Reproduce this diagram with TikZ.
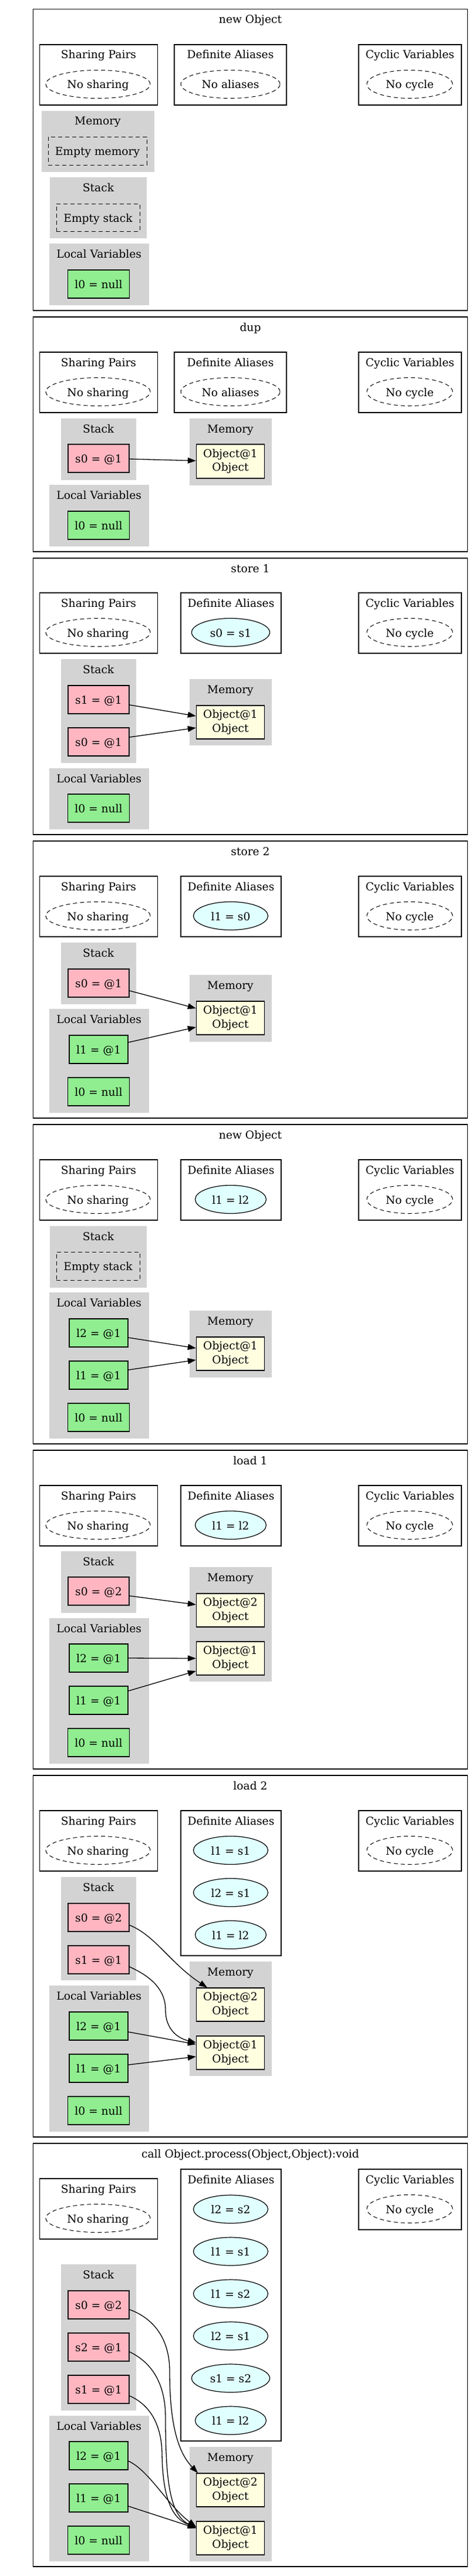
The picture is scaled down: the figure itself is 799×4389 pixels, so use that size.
\documentclass[tikz,border=0pt]{standalone}
\usepackage{fontspec}
\setmainfont{DejaVu Serif}
\usetikzlibrary{shapes.geometric,arrows.meta}
\definecolor{lpink}{HTML}{FFB6C1}
\definecolor{lgreen}{HTML}{90EE90}
\definecolor{lyellow}{HTML}{FFFFE0}
\definecolor{lcyan}{HTML}{E0FFFF}
\definecolor{lgray}{HTML}{D3D3D3}
\newcommand\mkbox[7]{\node[#2,minimum width={(#5)-(#3)},minimum height={(#6)-(#4)}] (#1) at ({((#3)+(#5))/2},{((#4)+(#6))/2}) {#7};}
\newcommand\mkell[6]{\node[#2,minimum width=#5pt,minimum height=48pt] (#1) at (#3,#4) {#6};}
\newcommand\mkttl[4]{\node[ttl] (#1) at (#2,#3) {#4};}
\tikzset{
  base/.style={inner sep=0pt,text height=15pt,text depth=0pt},
  ttl/.style={base},
  frm/.style={draw=black,line width=1.3pt,inner sep=0pt},
  wclu/.style={draw=black,line width=1.2pt,inner sep=0pt},
  gclu/.style={fill=lgray,draw=lgray,inner sep=0pt},
  stk/.style={base,draw=black,line width=1.3pt,fill=lpink},
  loc/.style={base,draw=black,line width=1.3pt,fill=lgreen},
  obj/.style={draw=black,line width=1.3pt,fill=lyellow,align=center,inner sep=0pt},
  ell/.style={base,ellipse,draw=black,line width=1.2pt,fill=lcyan},
  dell/.style={base,ellipse,draw=black,line width=1pt,dash pattern=on 7pt off 5pt},
  dbx/.style={base,rectangle,draw=black,line width=1pt,dash pattern=on 7pt off 5pt},
  arr/.style={-{Triangle[length=14pt,width=10pt]},line width=1.3pt,black}
}
\begin{document}
\begin{tikzpicture}[x=1pt,y=-1pt,font=\fontsize{18.67pt}{23.3pt}\selectfont]
\useasboundingbox (0,0) rectangle (799,4389);
%%%%%%%%%%%%%%%% Panel 1
\mkbox{f1}{frm}{56.5}{15.7}{796.5}{529}{}
\mkttl{t1}{426.5}{32.2}{new Object}
\mkbox{sp1}{wclu}{67.5}{76}{268.5}{179}{}
\mkttl{sp1t}{168}{92.5}{Sharing Pairs}
\mkell{sp1e}{dell}{167}{143.5}{178}{No sharing}
\mkbox{da1}{wclu}{297}{76}{488}{179}{}
\mkttl{da1t}{392.5}{92.5}{Definite Aliases}
\mkell{da1e}{dell}{392.5}{143.5}{169}{No aliases}
\mkbox{cv1}{wclu}{611}{76}{786}{179}{}
\mkttl{cv1t}{698.5}{92.5}{Cyclic Variables}
\mkell{cv1e}{dell}{698}{143.5}{146}{No cycle}
\mkbox{me1}{gclu}{71}{189}{262}{292}{}
\mkttl{me1t}{166.5}{205.5}{Memory}
\mkbox{me1e}{dbx}{82}{233}{250}{281}{Empty memory}
\mkbox{st1}{gclu}{85.5}{302}{249.5}{405.5}{}
\mkttl{st1t}{167.5}{318.5}{Stack}
\mkbox{st1e}{dbx}{96}{347}{238}{394}{Empty stack}
\mkbox{lv1}{gclu}{84.5}{415}{253}{519}{}
\mkttl{lv1t}{168.7}{431.5}{Local Variables}
\mkbox{p1l0}{loc}{115.5}{460}{220.5}{508}{l0 = null}
%%%%%%%%%%%%%%%% Panel 2
\mkbox{f2}{frm}{56.5}{540}{796.5}{940}{}
\mkttl{t2}{426.5}{556.5}{dup}
\mkbox{sp2}{wclu}{67.5}{600}{268.5}{703}{}
\mkttl{sp2t}{168}{616.5}{Sharing Pairs}
\mkell{sp2e}{dell}{167}{667.5}{178}{No sharing}
\mkbox{da2}{wclu}{297}{600}{488}{703}{}
\mkttl{da2t}{392.5}{616.5}{Definite Aliases}
\mkell{da2e}{dell}{392.5}{667.5}{169}{No aliases}
\mkbox{cv2}{wclu}{611}{600}{786}{703}{}
\mkttl{cv2t}{698.5}{616.5}{Cyclic Variables}
\mkell{cv2e}{dell}{698}{667.5}{146}{No cycle}
\mkbox{st2}{gclu}{104.5}{713}{231}{817}{}
\mkttl{st2t}{167.7}{729.5}{Stack}
\mkbox{p2s0}{stk}{116}{757}{220}{805}{s0 = @1}
\mkbox{me2}{gclu}{323}{713}{462}{826}{}
\mkttl{me2t}{392.5}{729.5}{Memory}
\mkbox{p2o1}{obj}{334.5}{757}{450.5}{815}{Object@1\\Object}
\mkbox{lv2}{gclu}{84.5}{826}{253}{930}{}
\mkttl{lv2t}{168.7}{842.5}{Local Variables}
\mkbox{p2l0}{loc}{115.5}{871}{220.5}{919}{l0 = null}
\draw[arr] ([yshift=-1pt]p2s0.east) -- ([yshift=1pt]p2o1.west);
%%%%%%%%%%%%%%%% Panel 3
\mkbox{f3}{frm}{56.5}{951}{796.5}{1422}{}
\mkttl{t3}{426.5}{967.5}{store 1}
\mkbox{sp3}{wclu}{67.5}{1010}{268.5}{1113}{}
\mkttl{sp3t}{168}{1026.5}{Sharing Pairs}
\mkell{sp3e}{dell}{167}{1077.5}{178}{No sharing}
\mkbox{da3}{wclu}{308}{1010}{479}{1113}{}
\mkttl{da3t}{393.5}{1026.5}{Definite Aliases}
\mkell{da3e}{ell}{393}{1077.5}{133}{s0 = s1}
\mkbox{cv3}{wclu}{611}{1010}{786}{1113}{}
\mkttl{cv3t}{698.5}{1026.5}{Cyclic Variables}
\mkell{cv3e}{dell}{698}{1077.5}{146}{No cycle}
\mkbox{st3}{gclu}{104.5}{1123}{231}{1299}{}
\mkttl{st3t}{167.7}{1139.5}{Stack}
\mkbox{p3s1}{stk}{116}{1168}{220}{1216}{s1 = @1}
\mkbox{p3s0}{stk}{116}{1240}{220}{1288}{s0 = @1}
\mkbox{me3}{gclu}{323}{1157}{462}{1269}{}
\mkttl{me3t}{392.5}{1173.5}{Memory}
\mkbox{p3o1}{obj}{334.5}{1202}{450.5}{1259}{Object@1\\Object}
\mkbox{lv3}{gclu}{84.5}{1309}{253}{1412}{}
\mkttl{lv3t}{168.7}{1325.5}{Local Variables}
\mkbox{p3l0}{loc}{115.5}{1353}{220.5}{1401}{l0 = null}
\draw[arr] ([yshift=-9pt]p3s1.east) -- ([yshift=10.5pt]p3o1.west);
\draw[arr] ([yshift=8pt]p3s0.east) -- ([yshift=-9.5pt]p3o1.west);
%%%%%%%%%%%%%%%% Panel 4
\mkbox{f4}{frm}{56.5}{1433}{796.5}{1905}{}
\mkttl{t4}{426.5}{1449.5}{store 2}
\mkbox{sp4}{wclu}{67.5}{1493}{268.5}{1596}{}
\mkttl{sp4t}{168}{1509.5}{Sharing Pairs}
\mkell{sp4e}{dell}{167}{1560.5}{178}{No sharing}
\mkbox{da4}{wclu}{308}{1493}{479}{1596}{}
\mkttl{da4t}{393.5}{1509.5}{Definite Aliases}
\mkell{da4e}{ell}{393}{1560.5}{127}{l1 = s0}
\mkbox{cv4}{wclu}{611}{1493}{786}{1596}{}
\mkttl{cv4t}{698.5}{1509.5}{Cyclic Variables}
\mkell{cv4e}{dell}{698}{1560.5}{146}{No cycle}
\mkbox{st4}{gclu}{104.5}{1606}{231}{1710}{}
\mkttl{st4t}{167.7}{1622.5}{Stack}
\mkbox{p4s0}{stk}{116}{1651}{220}{1699}{s0 = @1}
\mkbox{me4}{gclu}{323}{1661}{462}{1774}{}
\mkttl{me4t}{392.5}{1677.5}{Memory}
\mkbox{p4o1}{obj}{334.5}{1706}{450.5}{1763}{Object@1\\Object}
\mkbox{lv4}{gclu}{84.5}{1719}{253}{1895}{}
\mkttl{lv4t}{168.7}{1735.5}{Local Variables}
\mkbox{p4l1}{loc}{118}{1764}{218}{1812}{l1 = @1}
\mkbox{p4l0}{loc}{115.5}{1836}{220.5}{1884}{l0 = null}
\draw[arr] ([yshift=-13pt]p4s0.east) -- ([yshift=16.5pt]p4o1.west);
\draw[arr] ([yshift=12pt]p4l1.east) -- ([yshift=-15.5pt]p4o1.west);
%%%%%%%%%%%%%%%% Panel 5
\mkbox{f5}{frm}{56.5}{1916}{796.5}{2460}{}
\mkttl{t5}{426.5}{1932.5}{new Object}
\mkbox{sp5}{wclu}{67.5}{1976}{268.5}{2079}{}
\mkttl{sp5t}{168}{1992.5}{Sharing Pairs}
\mkell{sp5e}{dell}{167}{2043.5}{178}{No sharing}
\mkbox{da5}{wclu}{308}{1976}{479}{2079}{}
\mkttl{da5t}{393.5}{1992.5}{Definite Aliases}
\mkell{da5e}{ell}{393}{2043.5}{121}{l1 = l2}
\mkbox{cv5}{wclu}{611}{1976}{786}{2079}{}
\mkttl{cv5t}{698.5}{1992.5}{Cyclic Variables}
\mkell{cv5e}{dell}{698}{2043.5}{146}{No cycle}
\mkbox{st5}{gclu}{85.5}{2089}{249.5}{2193}{}
\mkttl{st5t}{167.5}{2105.5}{Stack}
\mkbox{st5e}{dbx}{96}{2133}{238}{2181}{Empty stack}
\mkbox{lv5}{gclu}{84.5}{2202}{253}{2450}{}
\mkttl{lv5t}{168.7}{2218.5}{Local Variables}
\mkbox{p5l2}{loc}{118}{2247}{218}{2295}{l2 = @1}
\mkbox{p5l1}{loc}{118}{2319}{218}{2367}{l1 = @1}
\mkbox{p5l0}{loc}{115.5}{2391}{220.5}{2439}{l0 = null}
\mkbox{me5}{gclu}{323}{2233}{462}{2346}{}
\mkttl{me5t}{392.5}{2249.5}{Memory}
\mkbox{p5o1}{obj}{334.5}{2278}{450.5}{2335}{Object@1\\Object}
\draw[arr] ([yshift=-8pt]p5l2.east) -- ([yshift=9.5pt]p5o1.west);
\draw[arr] ([yshift=9pt]p5l1.east) -- ([yshift=-10.5pt]p5o1.west);
%%%%%%%%%%%%%%%% Panel 6
\mkbox{f6}{frm}{56.5}{2471}{796.5}{3014}{}
\mkttl{t6}{426.5}{2487.5}{load 1}
\mkbox{sp6}{wclu}{67.5}{2531}{268.5}{2634}{}
\mkttl{sp6t}{168}{2547.5}{Sharing Pairs}
\mkell{sp6e}{dell}{167}{2598.5}{178}{No sharing}
\mkbox{da6}{wclu}{308}{2531}{479}{2634}{}
\mkttl{da6t}{393.5}{2547.5}{Definite Aliases}
\mkell{da6e}{ell}{393}{2598.5}{121}{l1 = l2}
\mkbox{cv6}{wclu}{611}{2531}{786}{2634}{}
\mkttl{cv6t}{698.5}{2547.5}{Cyclic Variables}
\mkell{cv6e}{dell}{698}{2598.5}{146}{No cycle}
\mkbox{st6}{gclu}{104.5}{2643}{231}{2747}{}
\mkttl{st6t}{167.7}{2659.5}{Stack}
\mkbox{p6s0}{stk}{116}{2687}{220}{2735}{s0 = @2}
\mkbox{me6}{gclu}{323}{2670}{462}{2864}{}
\mkttl{me6t}{392.5}{2686.5}{Memory}
\mkbox{p6o2}{obj}{334.5}{2715}{450.5}{2772}{Object@2\\Object}
\mkbox{p6o1}{obj}{334.5}{2797}{450.5}{2854}{Object@1\\Object}
\mkbox{lv6}{gclu}{84.5}{2757}{253}{3004}{}
\mkttl{lv6t}{168.7}{2773.5}{Local Variables}
\mkbox{p6l2}{loc}{118}{2801}{218}{2849}{l2 = @1}
\mkbox{p6l1}{loc}{118}{2873}{218}{2921}{l1 = @1}
\mkbox{p6l0}{loc}{115.5}{2945}{220.5}{2993}{l0 = null}
\draw[arr] ([yshift=-8pt]p6s0.east) -- ([yshift=9.5pt]p6o2.west);
\draw[arr] (p6l2.east) -- (p6o1.west);
\draw[arr] ([yshift=16pt]p6l1.east) -- ([yshift=-21.5pt]p6o1.west);
%%%%%%%%%%%%%%%% Panel 7
\mkbox{f7}{frm}{56.5}{3025}{796.5}{3641}{}
\mkttl{t7}{426.5}{3041.5}{load 2}
\mkbox{sp7}{wclu}{67.5}{3085}{268.5}{3188}{}
\mkttl{sp7t}{168}{3101.5}{Sharing Pairs}
\mkell{sp7e}{dell}{167}{3152.5}{178}{No sharing}
\mkbox{da7}{wclu}{308}{3085}{479}{3332}{}
\mkttl{da7t}{393.5}{3101.5}{Definite Aliases}
\mkell{da7a}{ell}{393}{3152.5}{127}{l1 = s1}
\mkell{da7b}{ell}{393}{3224.5}{127}{l2 = s1}
\mkell{da7c}{ell}{393}{3296.5}{121}{l1 = l2}
\mkbox{cv7}{wclu}{611}{3085}{786}{3188}{}
\mkttl{cv7t}{698.5}{3101.5}{Cyclic Variables}
\mkell{cv7e}{dell}{698}{3152.5}{146}{No cycle}
\mkbox{st7}{gclu}{104.5}{3198}{231}{3373}{}
\mkttl{st7t}{167.7}{3214.5}{Stack}
\mkbox{p7s0}{stk}{116}{3243}{220}{3291}{s0 = @2}
\mkbox{p7s1}{stk}{116}{3315}{220}{3363}{s1 = @1}
\mkbox{me7}{gclu}{323}{3342}{462}{3536}{}
\mkttl{me7t}{392.5}{3358.5}{Memory}
\mkbox{p7o2}{obj}{334.5}{3387}{450.5}{3444}{Object@2\\Object}
\mkbox{p7o1}{obj}{334.5}{3469}{450.5}{3526}{Object@1\\Object}
\mkbox{lv7}{gclu}{84.5}{3383}{253}{3631}{}
\mkttl{lv7t}{168.7}{3399.5}{Local Variables}
\mkbox{p7l2}{loc}{118}{3428}{218}{3476}{l2 = @1}
\mkbox{p7l1}{loc}{118}{3500}{218}{3548}{l1 = @1}
\mkbox{p7l0}{loc}{115.5}{3572}{220.5}{3620}{l0 = null}
\draw[arr] ([yshift=-13pt]p7s0.east) .. controls (265,3298) and (290,3345) .. ([xshift=-39.5pt]p7o2.north);
\draw[arr] ([yshift=-12pt]p7s1.east) .. controls (258,3368) and (282,3390) .. (282,3425) .. controls (282,3455) and (300,3472) .. ([yshift=17.5pt]p7o1.west);
\draw[arr] ([yshift=-10pt]p7l2.east) -- ([yshift=14.5pt]p7o1.west);
\draw[arr] ([yshift=6pt]p7l1.east) -- ([yshift=-6.5pt]p7o1.west);
%%%%%%%%%%%%%%%% Panel 8
\mkbox{f8}{frm}{56.5}{3652}{796.5}{4373}{}
\mkttl{t8}{426.5}{3668.5}{call Object.process(Object,Object):void}
\mkbox{sp8}{wclu}{67.5}{3712}{268.5}{3815}{}
\mkttl{sp8t}{168}{3728.5}{Sharing Pairs}
\mkell{sp8e}{dell}{167}{3779.5}{178}{No sharing}
\mkbox{da8}{wclu}{308}{3696}{479}{4159}{}
\mkttl{da8t}{393.5}{3712.5}{Definite Aliases}
\mkell{da8a}{ell}{393}{3764}{127}{l2 = s2}
\mkell{da8b}{ell}{393}{3836}{127}{l1 = s1}
\mkell{da8c}{ell}{393}{3908}{127}{l1 = s2}
\mkell{da8d}{ell}{393}{3980}{127}{l2 = s1}
\mkell{da8e}{ell}{393}{4052}{133}{s1 = s2}
\mkell{da8f}{ell}{393}{4124}{121}{l1 = l2}
\mkbox{cv8}{wclu}{611}{3696}{786}{3799}{}
\mkttl{cv8t}{698.5}{3712.5}{Cyclic Variables}
\mkell{cv8e}{dell}{698}{3763.5}{146}{No cycle}
\mkbox{st8}{gclu}{104.5}{3858}{231}{4106}{}
\mkttl{st8t}{167.7}{3874.5}{Stack}
\mkbox{p8s0}{stk}{116}{3903}{220}{3951}{s0 = @2}
\mkbox{p8s2}{stk}{116}{3975}{220}{4023}{s2 = @1}
\mkbox{p8s1}{stk}{116}{4047}{220}{4095}{s1 = @1}
\mkbox{lv8}{gclu}{84.5}{4116}{253}{4363}{}
\mkttl{lv8t}{168.7}{4132.5}{Local Variables}
\mkbox{p8l2}{loc}{118}{4160}{218}{4208}{l2 = @1}
\mkbox{p8l1}{loc}{118}{4232}{218}{4280}{l1 = @1}
\mkbox{p8l0}{loc}{115.5}{4304}{220.5}{4352}{l0 = null}
\mkbox{me8}{gclu}{323}{4169}{462}{4363}{}
\mkttl{me8t}{392.5}{4185.5}{Memory}
\mkbox{p8o2}{obj}{334.5}{4214}{450.5}{4271}{Object@2\\Object}
\mkbox{p8o1}{obj}{334.5}{4296}{450.5}{4353}{Object@1\\Object}
\draw[arr] ([yshift=-8pt]p8s0.east) .. controls (262,3950) and (289,3985) .. (289,4040) .. controls (289,4120) and (300,4175) .. ([xshift=-55.5pt]p8o2.north);
\draw[arr] ([yshift=-8pt]p8s2.east) .. controls (258,4025) and (282,4060) .. (282,4120) .. controls (282,4230) and (290,4285) .. ([yshift=17.5pt]p8o1.west);
\draw[arr] ([yshift=-11pt]p8s1.east) .. controls (255,4097) and (275,4130) .. (276,4180) .. controls (277,4260) and (295,4292) .. ([yshift=19pt]p8o1.west);
\draw[arr] ([yshift=-9pt]p8l2.east) .. controls (255,4210) and (285,4268) .. ([yshift=19.5pt]p8o1.west);
\draw[arr] ([yshift=-14pt]p8l1.east) -- ([yshift=17pt]p8o1.west);
\end{tikzpicture}
\end{document}
